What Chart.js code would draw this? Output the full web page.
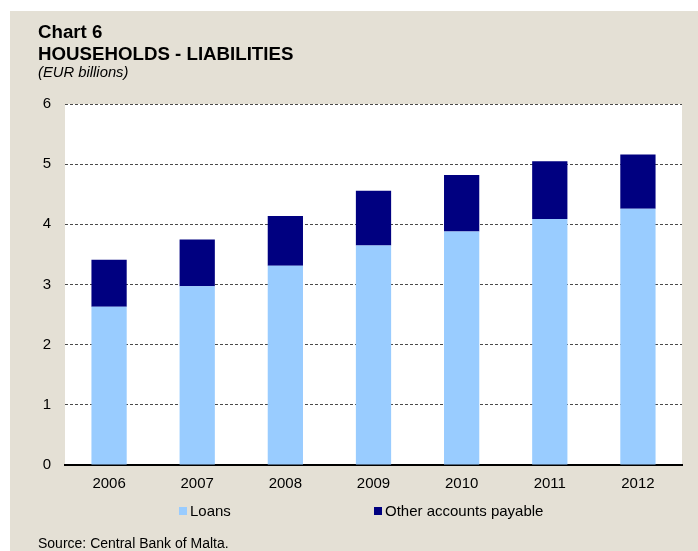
<!DOCTYPE html>
<html>
<head>
<meta charset="utf-8">
<script src="https://cdn.jsdelivr.net/npm/chart.js@4.4.0/dist/chart.umd.min.js"></script>
<style>
  body { margin: 0; background: #ffffff; }
  canvas { display: block; }
</style>
</head>
<body>
<canvas id="chart" width="698" height="551"></canvas>
<script>
// Chart data (EUR billions)
const years = ['2006', '2007', '2008', '2009', '2010', '2011', '2012'];
const loans = [2.63, 2.97, 3.31, 3.65, 3.88, 4.09, 4.26];
const otherPayable = [0.78, 0.78, 0.83, 0.91, 0.94, 0.96, 0.90];
const yTicks = [0, 1, 2, 3, 4, 5, 6];

const FONT = '"Liberation Sans", Arial, sans-serif';
const BEIGE = '#e4e0d5';

// Background, titles, legend and source note
const frame = {
    id: 'frame',
    beforeDraw(chart) {
        const c = chart.ctx;
        const a = chart.chartArea;
        c.save();
        c.fillStyle = BEIGE;
        c.fillRect(10, 11, chart.width - 10, chart.height - 11);
        c.fillStyle = '#ffffff';
        c.fillRect(a.left, a.top, a.right - a.left, a.bottom - a.top);
        c.restore();
    },
    afterDraw(chart) {
        const c = chart.ctx;
        c.save();
        c.fillStyle = '#000000';
        c.textBaseline = 'alphabetic';
        c.font = 'bold 18.7px ' + FONT;
        c.fillText('Chart 6', 38, 38);
        c.fillText('HOUSEHOLDS - LIABILITIES', 38, 60);
        c.font = 'italic 14.8px ' + FONT;
        c.fillText('(EUR billions)', 38, 77);

        // legend
        const items = chart.data.datasets;
        const xs = [179, 374];
        c.font = '15px ' + FONT;
        items.forEach((ds, i) => {
            c.fillStyle = ds.backgroundColor;
            c.fillRect(xs[i], 507, 8, 8);
            c.fillStyle = '#000000';
            c.fillText(ds.label, xs[i] + 11, 516);
        });

        c.font = '14px ' + FONT;
        c.fillText('Source: Central Bank of Malta.', 38, 548);
        c.restore();
    }
};

new Chart(document.getElementById('chart'), {
    type: 'bar',
    data: {
        labels: years,
        datasets: [
            {
                label: 'Loans',
                data: loans,
                backgroundColor: '#99ccff',
                barPercentage: 0.4,
                categoryPercentage: 1
            },
            {
                label: 'Other accounts payable',
                data: otherPayable,
                backgroundColor: '#000080',
                barPercentage: 0.4,
                categoryPercentage: 1
            }
        ]
    },
    options: {
        responsive: false,
        animation: false,
        layout: { padding: { top: 104, right: 16, left: 0, bottom: 0 } },
        plugins: {
            legend: { display: false },
            tooltip: { enabled: false }
        },
        scales: {
            x: {
                stacked: true,
                grid: { display: false, drawTicks: false },
                border: { color: '#000000', width: 2 },
                ticks: { color: '#000000', font: { family: FONT, size: 15 }, padding: 10 },
                afterFit(scale) { scale.height = 86; }
            },
            y: {
                stacked: true,
                min: yTicks[0],
                max: yTicks[yTicks.length - 1],
                afterBuildTicks(scale) { scale.ticks = yTicks.map(v => ({ value: v })); },
                grid: { color: '#4a4a4a', lineWidth: 1, drawTicks: false },
                border: { display: false, dash: [3, 2] },
                ticks: { color: '#000000', font: { family: FONT, size: 15 }, padding: 14 },
                afterFit(scale) { scale.width = 65; }
            }
        }
    },
    plugins: [frame]
});
</script>
</body>
</html>
